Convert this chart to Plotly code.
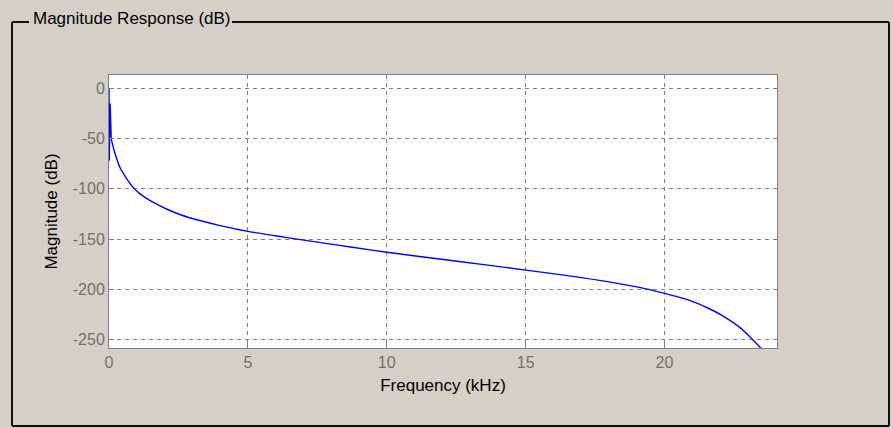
import plotly.graph_objects as go

# initial low-frequency segment (drawn straight)
spike_khz = [0, 0.01, 0.04, 0.08]
spike_db = [0, -72, -15, -50]

# main response curve
freq_khz = [0.08, 0.12, 0.22, 0.4, 0.64, 0.85, 1.12, 1.5, 2.07, 2.6, 3.27, 4,
            4.95, 6.3, 7.5, 8.7, 10, 11.9, 13.5, 15, 16.7, 18, 19.1, 20, 20.9, 21.6, 22.2,
            22.7, 23.05, 23.47, 23.6]
mag_db = [-50, -55, -65, -79, -90, -98, -105, -112, -120, -126, -131.5, -136.5,
          -142, -148, -153, -157.8, -163, -169.8, -175.3, -180.8, -187, -192.5, -198, -204,
          -211, -219, -228, -237.5, -246.5, -258.5, -263]

x_ticks = [0, 5, 10, 15, 20]
x_ticktext = ["0", "5", "10", "15", "20"]
y_ticks = [0, -50, -100, -150, -200, -250]
y_ticktext = ["0", "-50", "-100", "-150", "-200", "-250"]

W, H = 893, 428
L, R, T, B = 109, 777, 75, 348

def px(x):
    return (x - L) / (R - L)

def py(y):
    return (B - y) / (B - T)

fig = go.Figure()
fig.add_trace(go.Scatter(x=spike_khz, y=spike_db, mode="lines",
                         line=dict(color="#0000FF", width=1.4), showlegend=False))
fig.add_trace(go.Scatter(x=freq_khz, y=mag_db, mode="lines",
                         line=dict(color="#0000FF", width=1.4, shape="spline", smoothing=0.8),
                         showlegend=False))

FONT = "Liberation Sans, Arial"
tickfont = dict(family=FONT, size=16, color="#707070")
axis_common = dict(showline=True, linecolor="#808080", linewidth=1, mirror=True,
                   showgrid=True, gridcolor="#808080", griddash="4px,4px", gridwidth=1,
                   ticks="inside", ticklen=5, tickcolor="#808080", zeroline=False,
                   tickfont=tickfont)

fig.update_xaxes(range=[0, 24.05], tickvals=x_ticks, ticktext=x_ticktext,
                 title=dict(text="Frequency (kHz)", font=dict(family=FONT, size=17, color="#000000"), standoff=8),
                 **axis_common)
fig.update_yaxes(range=[-258.3, 13.3], tickvals=y_ticks, ticktext=y_ticktext,
                 title=dict(text="Magnitude (dB)", font=dict(family=FONT, size=17, color="#000000"), standoff=10),
                 **axis_common)

frame_color = "#101010"
fw = 2
shapes = [
    dict(type="line", xref="paper", yref="paper", x0=px(12), x1=px(12), y0=py(22), y1=py(426), line=dict(color=frame_color, width=fw)),
    dict(type="line", xref="paper", yref="paper", x0=px(889), x1=px(889), y0=py(22), y1=py(426), line=dict(color=frame_color, width=fw)),
    dict(type="line", xref="paper", yref="paper", x0=px(12), x1=px(889), y0=py(426), y1=py(426), line=dict(color=frame_color, width=fw)),
    dict(type="line", xref="paper", yref="paper", x0=px(12), x1=px(29), y0=py(22), y1=py(22), line=dict(color=frame_color, width=fw)),
    dict(type="line", xref="paper", yref="paper", x0=px(232), x1=px(889), y0=py(22), y1=py(22), line=dict(color=frame_color, width=fw)),
]

fig.update_layout(
    width=W, height=H,
    margin=dict(l=L, r=W - R, t=T, b=H - B),
    paper_bgcolor="#D4D0C8", plot_bgcolor="#FFFFFF",
    shapes=shapes,
    annotations=[dict(text="Magnitude Response (dB)", xref="paper", yref="paper",
                      x=px(31), y=py(18), xanchor="left", yanchor="middle", showarrow=False,
                      font=dict(family=FONT, size=17, color="#000000"))],
)

fig.write_html("out.html", config={"displayModeBar": False},
               post_script="document.body.style.margin='0';document.body.style.overflow='hidden';")
